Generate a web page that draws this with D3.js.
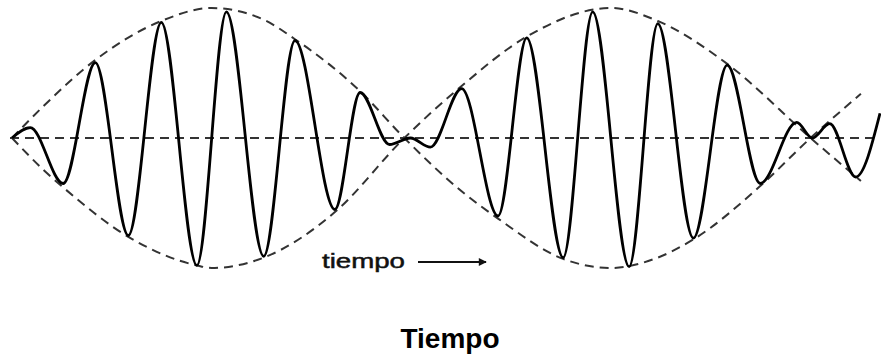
<!DOCTYPE html>
<html>
<head>
<meta charset="utf-8">
<script src="https://cdn.jsdelivr.net/npm/d3@7"></script>
<style>
  body { margin: 0; background: #fff; }
  svg { display: block; }
</style>
</head>
<body>
<div id="chart"></div>
<script>
var width = 881;
var height = 356;

// wave extrema (time, amplitude)
var waveT = [0, 0.21, 0.59, 0.96, 1.34, 1.72, 2.13, 2.47, 2.90, 3.26, 3.72, 4.01,
  4.35, 4.59, 4.82, 5.18, 5.60, 5.93, 6.35, 6.69, 7.11, 7.44, 7.85, 8.24, 8.62,
  9.04, 9.22, 9.42, 9.72, 10];
var waveA = [0, 0.08, -0.35, 0.58, -0.75, 0.89, -0.98, 0.97, -0.91, 0.75, -0.55, 0.35,
  -0.05, 0.0, -0.07, 0.38, -0.60, 0.77, -0.92, 0.97, -0.99, 0.88, -0.77, 0.56, -0.35,
  0.12, 0.0, 0.11, -0.30, 0.19];

// dashed envelopes
var env1T = [0, 0.37, 0.96, 1.72, 2.30, 2.90, 3.26, 4.01, 4.52, 5.18, 5.60, 6.35, 6.90, 7.44, 7.85, 8.62, 9.20, 9.78];
var env1A = [0, 0.25, 0.60, 0.90, 1.0, 0.91, 0.76, 0.36, 0, -0.41, -0.62, -0.93, -1.0, -0.92, -0.78, -0.37, 0, 0.34];
var env2T = [0, 0.37, 0.59, 1.34, 2.13, 2.30, 2.90, 3.72, 4.52, 5.18, 5.93, 6.90, 7.44, 8.24, 9.20, 9.78];
var env2A = [0, -0.25, -0.38, -0.76, -0.98, -1.0, -0.92, -0.57, 0, 0.40, 0.78, 1.0, 0.90, 0.57, 0, -0.33];

var baseT = [0, 10];

var svg = d3.select("#chart")
  .append("svg")
  .attr("width", width)
  .attr("height", height);

var xScale = d3.scaleLinear().domain([0, 10]).range([12, 880]);
var yScale = d3.scaleLinear().domain([-1, 1]).range([268, 8]);

function pts(ts, as) {
  return ts.map(function(t, i) { return [t, as[i]]; });
}

var line = d3.line()
  .x(function(d) { return xScale(d[0]); })
  .y(function(d) { return yScale(d[1]); })
  .curve(d3.curveMonotoneX);

// baseline
svg.append("line")
  .attr("x1", xScale(baseT[0]) - 2)
  .attr("x2", xScale(baseT[1]))
  .attr("y1", yScale(0))
  .attr("y2", yScale(0))
  .attr("stroke", "#333")
  .attr("stroke-width", 2)
  .attr("stroke-dasharray", "9,6");

[pts(env1T, env1A), pts(env2T, env2A)].forEach(function(p) {
  svg.append("path")
    .attr("d", line(p))
    .attr("fill", "none")
    .attr("stroke", "#333")
    .attr("stroke-width", 2)
    .attr("stroke-dasharray", "9,6");
});

svg.append("path")
  .attr("d", line(pts(waveT, waveA)))
  .attr("fill", "none")
  .attr("stroke", "#000")
  .attr("stroke-width", 2.8)
  .attr("stroke-linejoin", "round");

// little label with arrow
svg.append("text")
  .attr("x", 322)
  .attr("y", 268)
  .attr("textLength", 83)
  .attr("lengthAdjust", "spacingAndGlyphs")
  .style("font-family", "Liberation Sans, Arial, sans-serif")
  .style("font-size", "21px")
  .style("fill", "#111")
  .style("stroke", "#111")
  .style("stroke-width", 0.5)
  .text("tiempo");

svg.append("defs").append("marker")
  .attr("id", "arr")
  .attr("viewBox", "0 0 10 10")
  .attr("refX", 9).attr("refY", 5)
  .attr("markerWidth", 5).attr("markerHeight", 4)
  .attr("orient", "auto")
  .append("path")
  .attr("d", "M0,0L10,5L0,10z")
  .attr("fill", "#111");

svg.append("line")
  .attr("x1", 418).attr("x2", 486)
  .attr("y1", 262).attr("y2", 262)
  .attr("stroke", "#111")
  .attr("stroke-width", 2)
  .attr("marker-end", "url(#arr)");

// title
svg.append("text")
  .attr("x", 450)
  .attr("y", 348)
  .attr("text-anchor", "middle")
  .style("font-family", "Liberation Sans, Arial, sans-serif")
  .style("font-size", "28px")
  .style("font-weight", "bold")
  .text("Tiempo");
</script>
</body>
</html>
